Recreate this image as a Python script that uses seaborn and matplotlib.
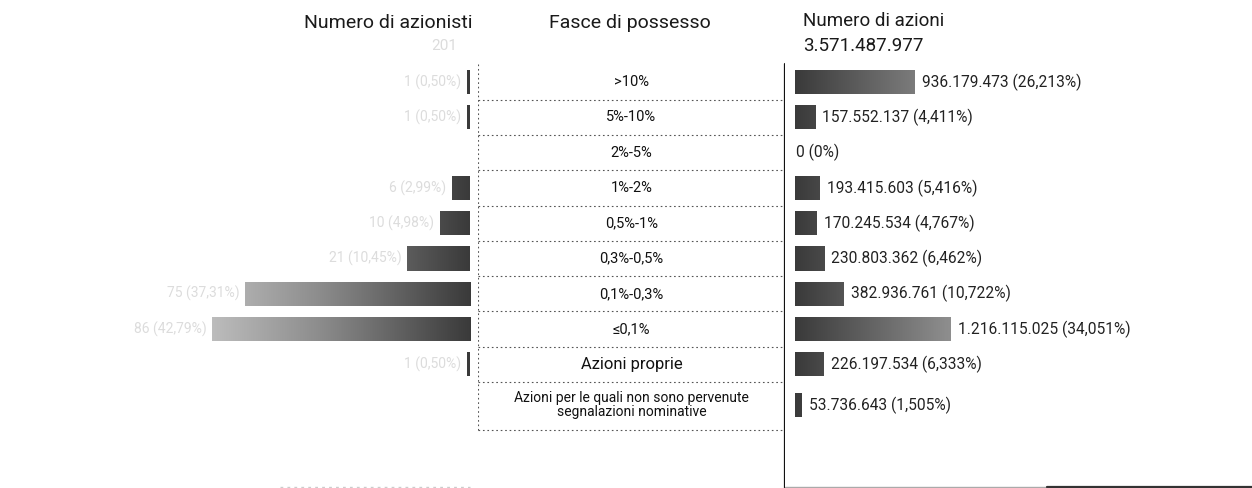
import numpy as np
import matplotlib.pyplot as plt
import seaborn as sns
from matplotlib.lines import Line2D
from matplotlib.colors import LinearSegmentedColormap

# data
fasce = [">10%", "5%-10%", "2%-5%", "1%-2%", "0,5%-1%", "0,3%-0,5%",
         "0,1%-0,3%", "≤0,1%", "Azioni proprie",
         "Azioni per le quali non sono pervenute\nsegnalazioni nominative"]
row_pos = [0, 1, 2, 3, 4, 5, 6, 7, 8, 9.15]
azionisti = [1, 1, 0, 6, 10, 21, 75, 86, 1, 0]
azioni = [936179473, 157552137, 0, 193415603, 170245534, 230803362,
          382936761, 1216115025, 226197534, 53736643]
totale_azioni = 3571487977

W, H = 1252, 488
FONT = ["Roboto", "DejaVu Sans"]

sns.set_style("white")
plt.rcParams["font.family"] = FONT


def fmt_int(v):
    return f"{v:,}".replace(",", ".")


def fmt_pct(v, dec):
    return f"{v:.{dec}f}".replace(".", ",") + "%"


# y mapping: row centre 0 at 82px, 35.3px per row
def ylims():
    return ((H - 82) / 35.3, -82 / 35.3)


grey_cmap = LinearSegmentedColormap.from_list("g", ["#3a3a3a", "#8c8c8c", "#cfcfcf"])


def gradient_bars(ax, x_dark, x_light):
    xl, yl = ax.get_xlim(), ax.get_ylim()
    grad = np.linspace(0, 1, 512).reshape(1, -1)
    for patch in list(ax.patches):
        patch.set_facecolor("none")
        patch.set_edgecolor("none")
        img = ax.imshow(grad, extent=[x_dark, x_light, yl[0], yl[1]],
                        aspect="auto", cmap=grey_cmap, vmin=0, vmax=1, zorder=2)
        img.set_clip_path(patch)
    ax.set_xlim(xl)
    ax.set_ylim(yl)


fig = plt.figure(figsize=(W / 100, H / 100), dpi=100)

# left: number of shareholders
ax_l = fig.add_axes([0, 0, 470 / W, 1])
sns.barplot(x=azionisti, y=row_pos, orient="h", native_scale=True, width=0.68,
            color="#777777", errorbar=None, ax=ax_l)
ax_l.set_xlim(470 / 3, 0)
ax_l.set_ylim(*ylims())
gradient_bars(ax_l, 0, 100)
tot_az = sum(azionisti)
for v, y in zip(azionisti, row_pos):
    if v > 0:
        ax_l.annotate(f"{fmt_int(v)} ({fmt_pct(v / tot_az * 100, 2)})", (v, y),
                      xytext=(-4, 0), textcoords="offset points", ha="right",
                      va="center", fontsize=10, color="#dcdcdc")
ax_l.axis("off")

# middle: holding bands
ax_m = fig.add_axes([478 / W, 0, (785 - 478) / W, 1])
ax_m.set_xlim(0, 1)
ax_m.set_ylim(*ylims())
ax_m.axis("off")
for lab, y in zip(fasce, row_pos):
    if lab == "Azioni proprie":
        size = 12
    elif "\n" in lab:
        size = 10
    else:
        size = 10.5
    ax_m.text(0.5, y, lab, ha="center", va="center", fontsize=size,
              color="#111111", linespacing=1.0)
bounds = [p + 0.5 for p in row_pos[:-1]] + [9.85]
for b in bounds:
    ax_m.plot([0, 1], [b, b], color="#555555", lw=0.8, ls=(0, (1.5, 2.5)))
ax_m.plot([0, 0], [-0.5, 9.85], color="#555555", lw=0.8, ls=(0, (1.5, 2.5)))
ax_m.plot([1, 1], [-0.5, ylims()[0]], color="#111111", lw=1.6)

# right: number of shares
ax_r = fig.add_axes([795 / W, 0, (W - 795) / W, 1])
sns.barplot(x=azioni, y=row_pos, orient="h", native_scale=True, width=0.68,
            color="#777777", errorbar=None, ax=ax_r)
ax_r.set_xlim(0, totale_azioni)
ax_r.set_ylim(*ylims())
gradient_bars(ax_r, 0, totale_azioni * 300 / (W - 795))
for v, y in zip(azioni, row_pos):
    lab = "0 (0%)" if v == 0 else f"{fmt_int(v)} ({fmt_pct(v / totale_azioni * 100, 3)})"
    ax_r.annotate(lab, (v, y), xytext=(5 if v else 1, 0), textcoords="offset points",
                  ha="left", va="center", fontsize=11.2, color="#222222")
ax_r.axis("off")

# headers
fig.text(472 / W, 1 - 23 / H, "Numero di azionisti", ha="right", va="center",
         fontsize=14, color="#1a1a1a")
fig.text(457 / W, 1 - 46 / H, fmt_int(tot_az), ha="right", va="center",
         fontsize=11, color="#dcdcdc")
fig.text(630 / W, 1 - 23 / H, "Fasce di possesso", ha="center", va="center",
         fontsize=14, color="#1a1a1a")
fig.text(803 / W, 1 - 21 / H, "Numero di azioni", ha="left", va="center",
         fontsize=13.5, color="#1a1a1a")
fig.text(803 / W, 1 - 46 / H, fmt_int(totale_azioni), ha="left", va="center",
         fontsize=13.5, color="#1a1a1a")

# bottom rules
fig.add_artist(Line2D([785 / W, 1], [1.5 / H, 1.5 / H], color="#aaaaaa", lw=1))
fig.add_artist(Line2D([1047 / W, 1], [1.5 / H, 1.5 / H], color="#333333", lw=1.6))
fig.add_artist(Line2D([280 / W, 470 / W], [1.5 / H, 1.5 / H], color="#cccccc",
                      lw=1, ls=(0, (2, 3))))

fig.savefig("out.png", dpi=100, facecolor="white")
